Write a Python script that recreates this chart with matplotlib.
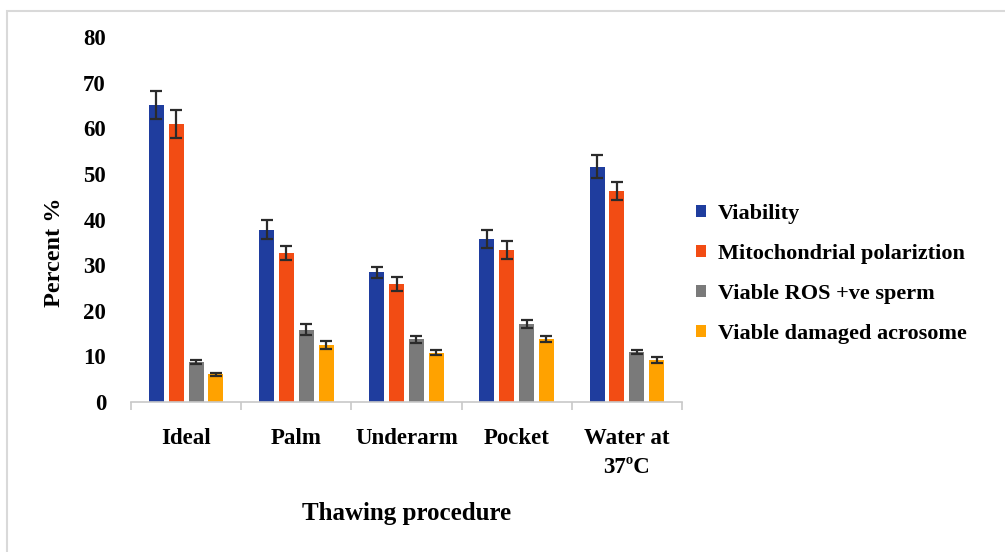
import matplotlib
matplotlib.use("Agg")
import matplotlib.pyplot as plt
import numpy as np
from matplotlib.patches import Rectangle

categories = ["Ideal", "Palm", "Underarm", "Pocket", "Water at\n37ºC"]
series_names = ["Viability", "Mitochondrial polariztion",
                "Viable ROS +ve sperm", "Viable damaged acrosome"]
viability = [65.1, 37.8, 28.4, 35.8, 51.6]
viability_err = [3.0, 2.0, 1.2, 2.0, 2.5]
mito = [60.9, 32.6, 25.9, 33.3, 46.2]
mito_err = [3.0, 1.5, 1.5, 2.0, 2.0]
ros = [8.8, 15.8, 13.7, 17.1, 10.9]
ros_err = [0.5, 1.2, 0.8, 0.9, 0.4]
acro = [6.1, 12.5, 10.8, 13.8, 9.2]
acro_err = [0.3, 0.8, 0.5, 0.7, 0.7]
yticks = [0, 10, 20, 30, 40, 50, 60, 70, 80]

values = [viability, mito, ros, acro]
errors = [viability_err, mito_err, ros_err, acro_err]
colors = ["#1f3d9e", "#f24c14", "#7a7a7a", "#ffa200"]

plt.rcParams['font.family'] = ['Liberation Serif', 'DejaVu Serif']
plt.rcParams['font.weight'] = 'bold'

fig = plt.figure(figsize=(10.05, 5.52), dpi=100)
# outer light border
fig.patches.append(Rectangle((7/1005, -0.1), 1.2, (552-11)/552 + 0.1,
                             transform=fig.transFigure, fill=False,
                             edgecolor="#d9d9d9", linewidth=1.5))

ax = fig.add_axes([131/1005, (552-402)/552, 551/1005, 365/552])
x = np.arange(len(categories))
width = 0.136
pitch = 0.18
offsets = (np.arange(4) - 1.5) * pitch
handles = []
for i in range(4):
    b = ax.bar(x + offsets[i], values[i], width, color=colors[i],
               yerr=errors[i], capsize=4.5,
               error_kw=dict(ecolor="#2b2b2b", elinewidth=1.6, capthick=1.6),
               label=series_names[i], zorder=2)
    handles.append(b)

ax.set_xlim(-0.5, len(categories) - 0.5)
ax.set_ylim(0, 80)
ax.set_yticks(yticks)
ax.set_yticklabels([str(v) for v in yticks], fontsize=16.5, fontweight='bold')
ax.tick_params(axis='y', length=0, pad=18)

ax.set_xticks(x)
ax.set_xticklabels(categories, fontsize=16.5, fontweight='bold', linespacing=1.45)
ax.tick_params(axis='x', which='major', length=0, pad=19)
ax.set_xticks(np.arange(len(categories) + 1) - 0.5, minor=True)
ax.tick_params(axis='x', which='minor', length=5.5, color="#c8c8c8", width=1.2)

for s in ["top", "right", "left"]:
    ax.spines[s].set_visible(False)
ax.spines["bottom"].set_color("#c8c8c8")
ax.spines["bottom"].set_linewidth(1.2)

ax.set_xlabel("Thawing procedure", fontsize=18, fontweight='bold')
ax.xaxis.set_label_coords(0.5, -0.275)
ax.set_ylabel("Percent %", fontsize=17.5, fontweight='bold')
ax.yaxis.set_label_coords(-0.12, 0.41)

leg = fig.legend(handles=handles, labels=series_names, loc="upper left",
                 bbox_to_anchor=(676/1005, 1 - 184/552), frameon=False,
                 handlelength=0.45, handleheight=0.45,
                 handletextpad=0.55, labelspacing=0.9,
                 prop=dict(weight='bold', size=16))

fig.savefig("out.png", dpi=100)
